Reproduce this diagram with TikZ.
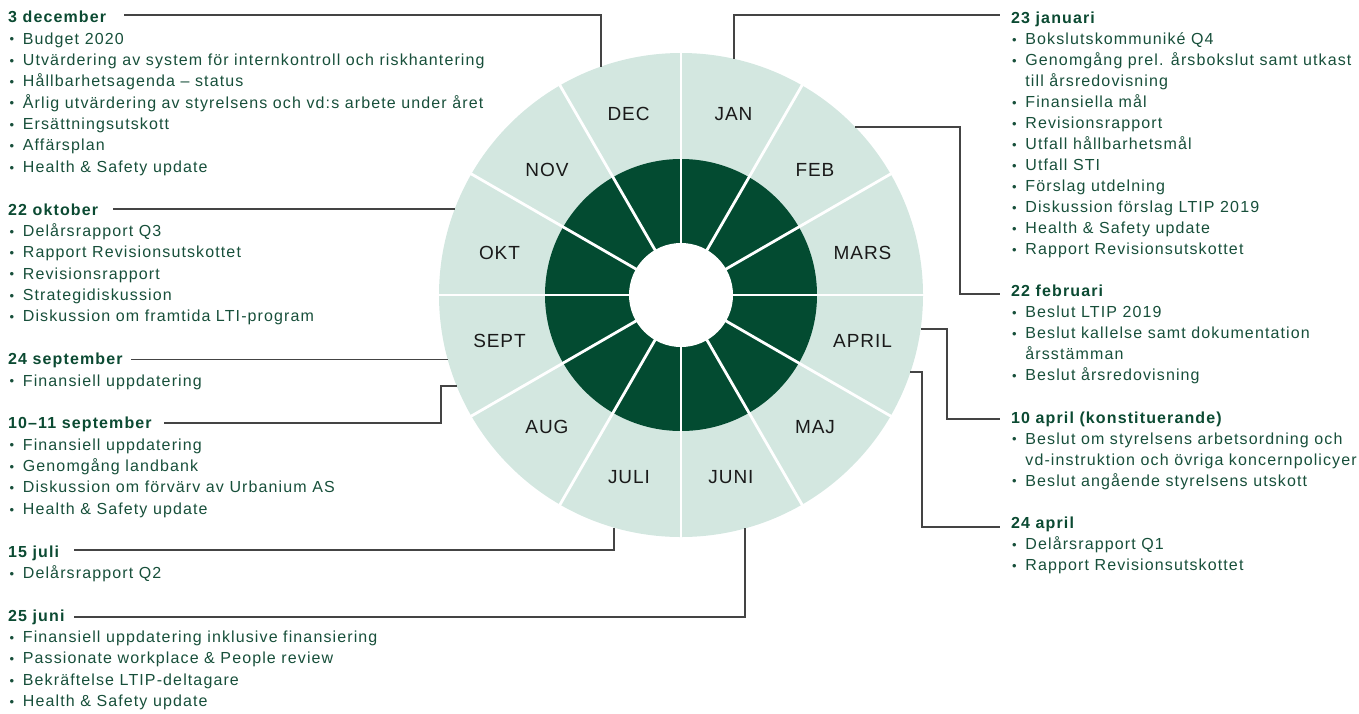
\documentclass[tikz,border=0pt]{standalone}
\usepackage{fontspec}
\setmainfont{Liberation Sans}[LetterSpace=7]
\newfontfamily\monthfont{Liberation Sans}[LetterSpace=5]
\newfontfamily\bulfont{Liberation Sans}
\definecolor{lightg}{HTML}{D3E7E0}
\definecolor{darkg}{HTML}{034B31}
\definecolor{bodyg}{HTML}{174F3A}
\definecolor{titleg}{HTML}{0B4A32}
\definecolor{monthk}{HTML}{1A1A1A}
\definecolor{lineg}{HTML}{444444}
\tikzset{
  itm/.style={anchor=base west, inner sep=0pt, text=bodyg, font=\fontsize{16}{19}\selectfont},
  ttl/.style={anchor=base west, inner sep=0pt, text=titleg, font=\fontsize{16}{19}\selectfont\bfseries},
  month/.style={font=\monthfont\fontsize{19}{19}\selectfont, text=monthk, inner sep=0pt, text height=13.6pt, text depth=0pt, anchor=center},
  conn/.style={draw=lineg, line width=1.1pt},
  gap/.style={draw=white, line width=2.8pt}
}
\newcommand\blt{\makebox[13.2pt][l]{\raisebox{0.3pt}{\bulfont\fontsize{13}{13}\selectfont •}}}
\newcommand\nob{\hspace*{13.2pt}}
% #1 name, #2 x, #3 first baseline, #4 pitch, #5 list
\newcommand\itemblock[5]{%
  \foreach \itm [count=\i] in {#5} {\node[itm] (#1-\i) at (#2, {#3+(\i-1)*#4}) {\itm};}%
}
\begin{document}
\begin{tikzpicture}[x=1pt,y=-1pt]
\useasboundingbox (0,0) rectangle (1359,713);
% wheel
\fill[lightg] (681,295) circle (242pt);
\fill[darkg] (681,295) circle (136pt);
\fill[white] (681,295) circle (52pt);
\begin{scope}[shift={(681,295)}]
  \foreach \a in {0,30,...,150} \draw[gap] (\a:244) -- (\a+180:244);
\end{scope}
% month labels
\node[month] (mjan) at (733.5,114) {JAN};
\node[month] (mdec) at (628.5,114) {DEC};
\node[month] (mfeb) at (815,170) {FEB};
\node[month] (mnov) at (547,170) {NOV};
\node[month] (mmar) at (862.5,253) {MARS};
\node[month] (mokt) at (499.5,253) {OKT};
\node[month] (mapr) at (862.5,341) {APRIL};
\node[month] (msep) at (499.5,341) {SEPT};
\node[month] (mmaj) at (815,427) {MAJ};
\node[month] (maug) at (547,427) {AUG};
\node[month] (mjun) at (731,477) {JUNI};
\node[month] (mjul) at (629,477) {JULI};
% left titles
\node[ttl] (tdec) at (8,22.7) {3 december};
\itemblock{dec}{9.5}{44.075}{21.375}{\blt Budget 2020,\blt Utvärdering av system för internkontroll och riskhantering,\blt Hållbarhetsagenda – status,\blt Årlig utvärdering av styrelsens och vd:s arbete under året,\blt Ersättningsutskott,\blt Affärsplan,\blt Health \& Safety update}
\node[ttl] (tokt) at (8,215.075) {22 oktober};
\itemblock{okt}{9.5}{236.45}{21.375}{\blt Delårsrapport Q3,\blt Rapport Revisionsutskottet,\blt Revisionsrapport,\blt Strategidiskussion,\blt Diskussion om framtida LTI-program}
\node[ttl] (tsepb) at (8,364.7) {24 september};
\itemblock{sepb}{9.5}{386.075}{21.375}{\blt Finansiell uppdatering}
\node[ttl] (tsepa) at (8,428.825) {10–11 september};
\itemblock{sepa}{9.5}{450.2}{21.375}{\blt Finansiell uppdatering,\blt Genomgång landbank,\blt Diskussion om förvärv av Urbanium AS,\blt Health \& Safety update}
\node[ttl] (tjul) at (8,557.075) {15 juli};
\itemblock{jul}{9.5}{578.45}{21.375}{\blt Delårsrapport Q2}
\node[ttl] (tjun) at (8,621.2) {25 juni};
\itemblock{jun}{9.5}{642.575}{21.375}{\blt Finansiell uppdatering inklusive finansiering,\blt Passionate workplace \& People review,\blt Bekräftelse LTIP-deltagare,\blt Health \& Safety update}
% right titles
\node[ttl] (tjan) at (1011,23.3) {23 januari};
\itemblock{jan}{1012}{44.34}{21.04}{\blt Bokslutskommuniké Q4,\blt Genomgång prel. årsbokslut samt utkast,\nob till årsredovisning,\blt Finansiella mål,\blt Revisionsrapport,\blt Utfall hållbarhetsmål,\blt Utfall STI,\blt Förslag utdelning,\blt Diskussion förslag LTIP 2019,\blt Health \& Safety update,\blt Rapport Revisionsutskottet}
\node[ttl] (tfeb) at (1011,296.82) {22 februari};
\itemblock{feb}{1012}{317.86}{21.04}{\blt Beslut LTIP 2019,\blt Beslut kallelse samt dokumentation,\nob årsstämman,\blt Beslut årsredovisning}
\node[ttl] (tapra) at (1011,423.06) {10 april (konstituerande)};
\itemblock{apra}{1012}{444.1}{21.04}{\blt Beslut om styrelsens arbetsordning och,\nob vd-instruktion och övriga koncernpolicyer,\blt Beslut angående styrelsens utskott}
\node[ttl] (taprb) at (1011,528.26) {24 april};
\itemblock{aprb}{1012}{549.3}{21.04}{\blt Delårsrapport Q1,\blt Rapport Revisionsutskottet}
% connector coordinates
\coordinate (sdec) at (124,15);   \coordinate (wdec) at (601,66.6);
\coordinate (sokt) at (113,209);  \coordinate (wokt) at (454.8,209);
\coordinate (ssepb) at (131,359.5); \coordinate (wsepb) at (447.8,359.5);
\coordinate (ssepa) at (164,423); \coordinate (csepa) at (441,386); \coordinate (wsepa) at (456.8,386);
\coordinate (sjul) at (74,550);   \coordinate (wjul) at (614,527.5);
\coordinate (sjun) at (74,617);   \coordinate (wjun) at (745,528.4);
\coordinate (wjan) at (734,58.9); \coordinate (ejan) at (1000,15);
\coordinate (wfeb) at (855,127);  \coordinate (cfeb) at (960,294); \coordinate (efeb) at (1000,294);
\coordinate (wapra) at (920.6,329); \coordinate (capra) at (947,419); \coordinate (eapra) at (1000,419);
\coordinate (waprb) at (910.4,372); \coordinate (caprb) at (922,527); \coordinate (eaprb) at (1000,527);
% connectors
\draw[conn] (sdec) -| (wdec);
\draw[conn] (sokt) -- (wokt);
\draw[conn] (ssepb) -- (wsepb);
\draw[conn] (ssepa) -| (csepa) -- (wsepa);
\draw[conn] (sjul) -| (wjul);
\draw[conn] (sjun) -| (wjun);
\draw[conn] (wjan) |- (ejan);
\draw[conn] (wfeb) -| (cfeb) -- (efeb);
\draw[conn] (wapra) -| (capra) -- (eapra);
\draw[conn] (waprb) -| (caprb) -- (eaprb);
\end{tikzpicture}
\end{document}
